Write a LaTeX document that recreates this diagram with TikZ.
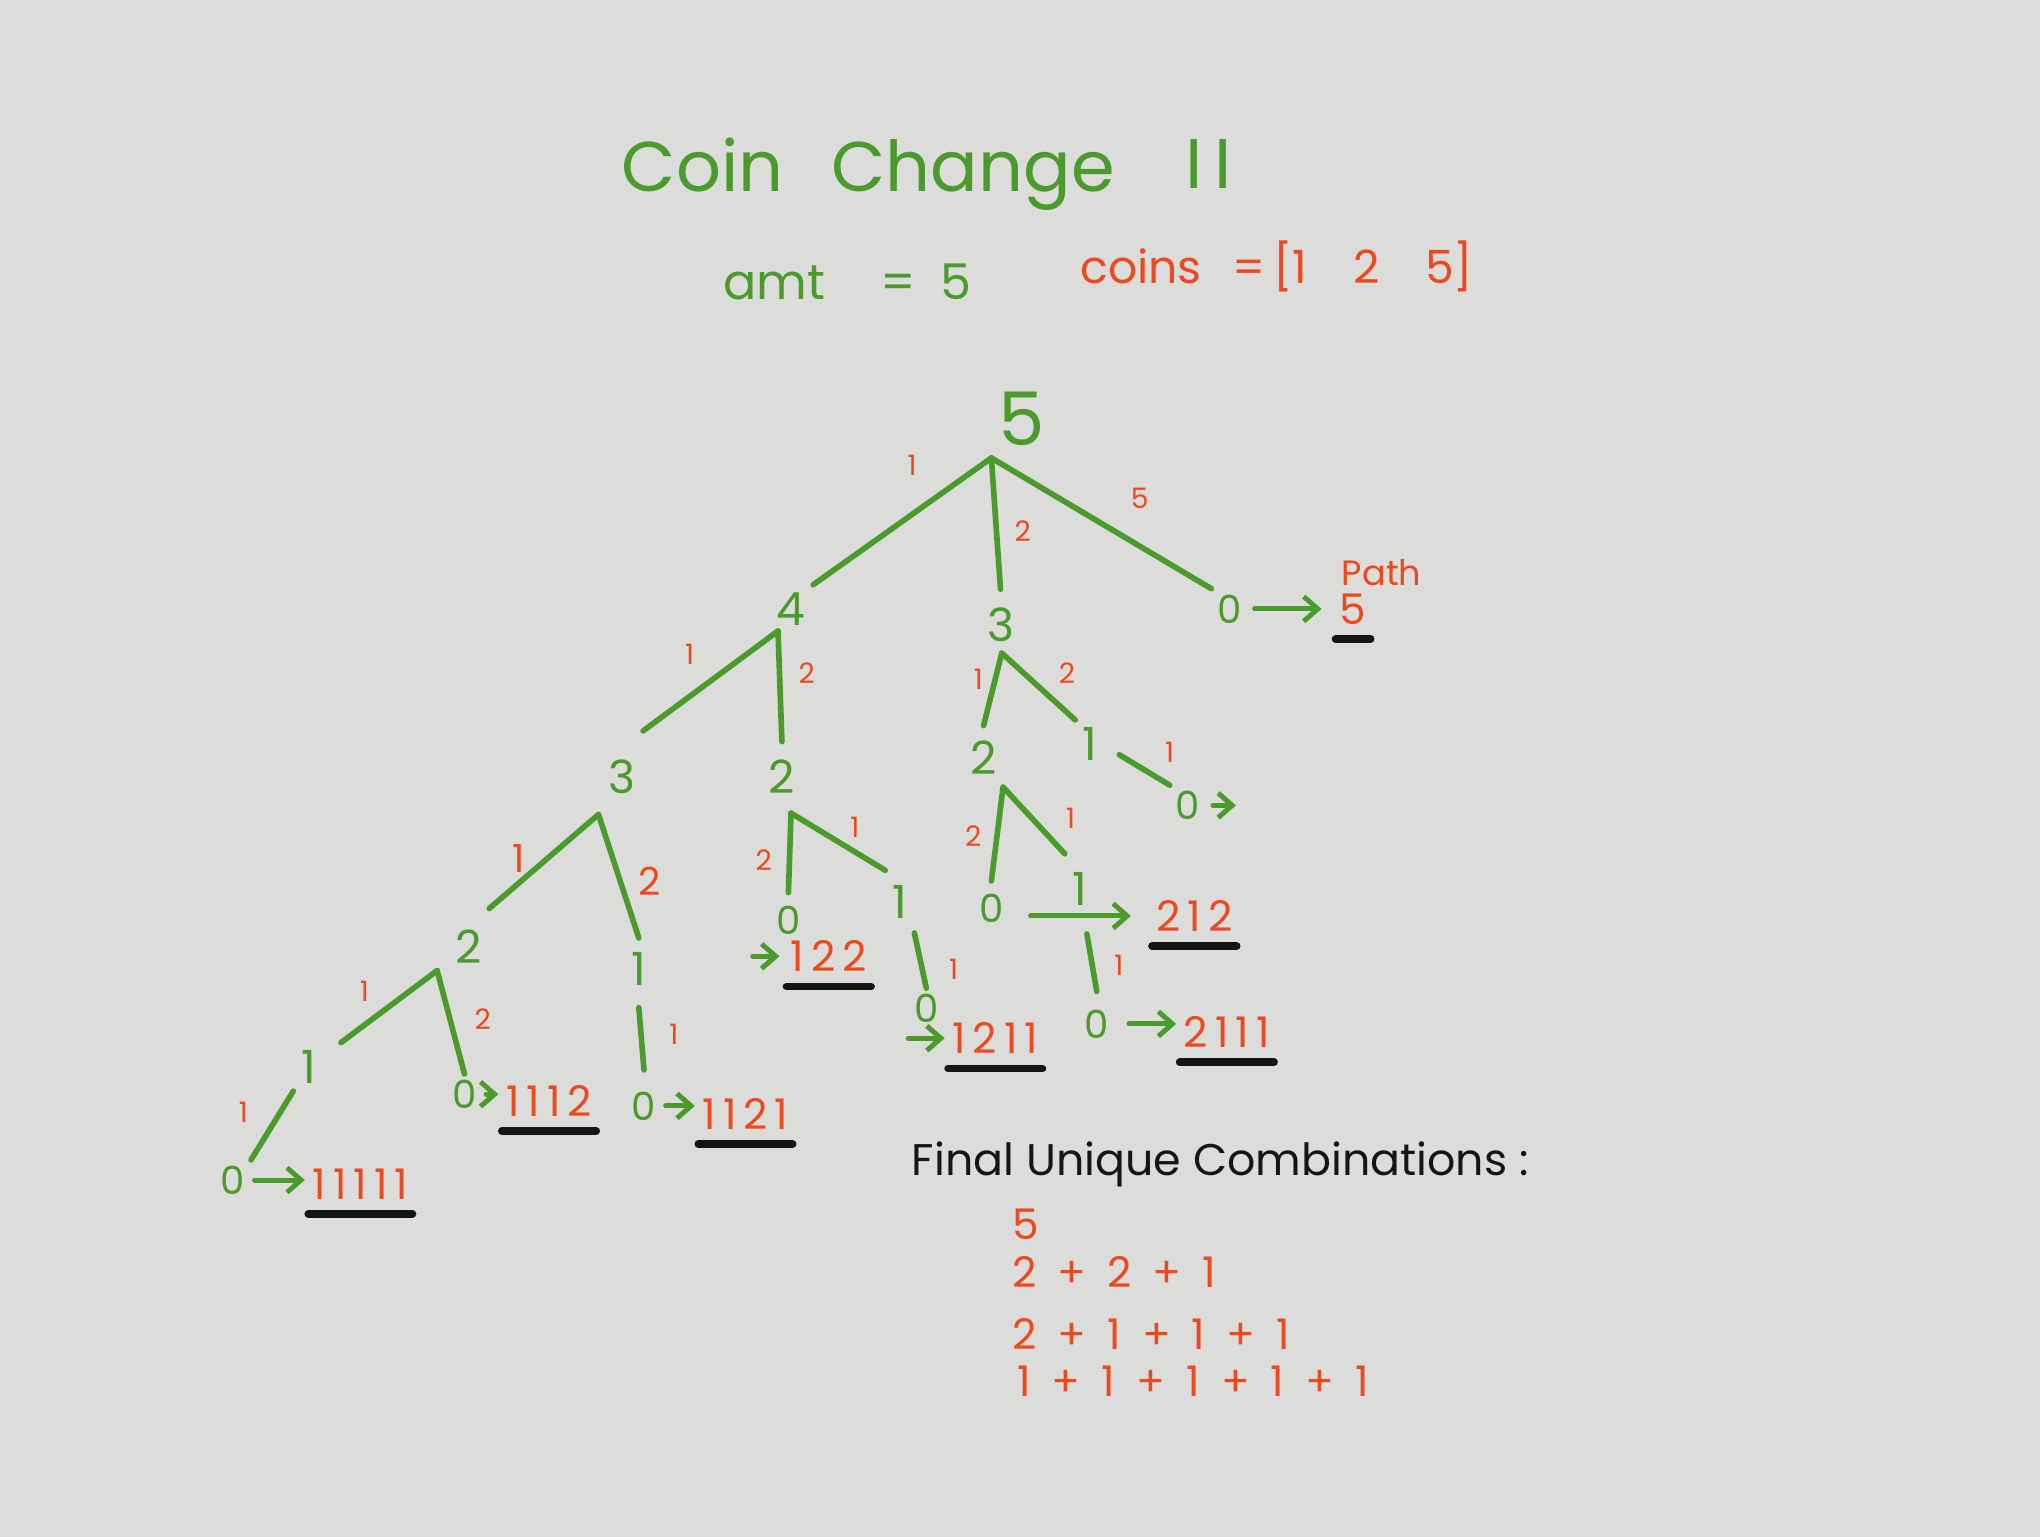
\documentclass[tikz,border=0pt]{standalone}
\usepackage{fontspec}
\setmainfont{Poppins}
\usetikzlibrary{arrows.meta}
\newcommand{\cpl}{\enspace+\enspace}
\begin{document}
\begin{tikzpicture}[x=0.013cm, y=-0.013cm,
  title/.style={text=grn, font=\fontsize{20}{20}\selectfont, anchor=base},
  hdr/.style={text=grn, font=\fontsize{14}{14}\selectfont, anchor=base},
  hdrred/.style={text=red1, font=\fontsize{13}{13}\selectfont, anchor=base},
  root/.style={text=grn, font=\fontsize{21}{21}\selectfont, inner sep=2pt},
  num/.style={text=grn, font=\fontsize{13}{13}\selectfont, inner sep=2pt},
  zero/.style={text=grn, font=\fontsize{11}{11}\selectfont, inner sep=1.5pt},
  lab/.style={text=red1, font=\fontsize{8}{8}\selectfont, inner sep=1pt},
  labbig/.style={text=red1, font=\fontsize{11}{11}\selectfont, inner sep=1pt},
  res/.style={text=red1, font=\fontsize{12}{12}\selectfont, inner sep=2pt},
  note/.style={text=red1, font=\fontsize{10}{10}\selectfont, inner sep=1pt},
  fin/.style={text=blk, font=\fontsize{12.6}{12.6}\selectfont, inner sep=2pt},
  combo/.style={text=red1, font=\fontsize{12}{12}\selectfont, inner sep=2pt, anchor=west},
  branch/.style={draw=grn, line width=1.6pt, line cap=round},
  arr/.style={draw=grn, line width=1.4pt, line cap=round, -{Straight Barb[length=4pt, width=7pt]}},
  uline/.style={draw=blk, line width=2.2pt, line cap=round},
]
\definecolor{board}{HTML}{DCDCDA}
\definecolor{grn}{HTML}{4A9A2C}
\definecolor{red1}{HTML}{EC4A1E}
\definecolor{blk}{HTML}{151515}
\fill[board] (0,0) rectangle (1568,1181);
\useasboundingbox (0,0) rectangle (1568,1181);

% heading
\node[title] (tcoin) at (540,147) {Coin};
\node[title] (tchange) at (748,147) {Change};
\node[title] (tii) at (929,145) {I\,I};
\node[hdr] (amt) at (595,230) {amt};
\node[hdr] (amtv) at (712,230) {=\enspace5};
\node[hdrred] (coins) at (877,218) {coins};
\node[hdrred] (coinv) at (1040,218) {=\,[1\quad2\quad5]};

% level 0 and 1
\node[root] (r) at (785,322) {5};
\coordinate (ra) at (762,352);
\node[num] (a) at (608,468) {4};
\node[num] (b) at (769,480) {3};
\node[zero] (c) at (945,468) {0};
\draw[branch] (ra) -- (a.north east);
\draw[branch] (ra) -- ([yshift=3pt]b.north);
\draw[branch] (ra) -- (c.north west);
\node[lab] (lr1) at (701,358) {1};
\node[lab] (lr2) at (786,408) {2};
\node[lab] (lr5) at (876,383) {5};
\node[res] (p5) at (1040,468) {5};
\node[note] (path) at (1062,440) {Path};
\draw[arr, shorten <=2pt, shorten >=3pt] (c) -- (p5);

% under 4
\coordinate (aa) at (598,485);
\node[num] (a1) at (478,597) {3};
\node[num] (a2) at (601,597) {2};
\draw[branch] (aa) -- ([yshift=6pt]a1.north east);
\draw[branch] (aa) -- ([yshift=3pt]a2.north);
\node[lab] (la1) at (530,503) {1};
\node[lab] (la2) at (620,517) {2};

% under 3 (middle)
\coordinate (ba) at (770,502);
\node[num] (b1) at (756,582) {2};
\node[num] (b2) at (838,572) {1};
\draw[branch] (ba) -- ([yshift=2pt]b1.north);
\draw[branch] (ba) -- (b2.north west);
\node[lab] (lb1) at (752,522) {1};
\node[lab] (lb2) at (820,517) {2};
\node[zero] (b2a) at (913,619) {0};
\coordinate (b2e) at (950,619);
\draw[branch] ([xshift=4pt,yshift=-3pt]b2.east) -- (b2a.north west);
\node[lab] (lb2a) at (899,578) {1};
\draw[arr, shorten <=2pt] (b2a) -- (b2e);

\coordinate (b1a) at (771,605);
\node[zero] (b1x) at (762,698) {0};
\node[num] (b1y) at (830,683) {1};
\draw[branch] (b1a) -- ([yshift=2pt]b1x.north);
\draw[branch] (b1a) -- ([yshift=3pt]b1y.north west);
\node[lab] (lb1x) at (748,643) {2};
\node[lab] (lb1y) at (823,629) {1};
\node[res] (q212) at (918,704) {2\,1\,2};
\draw[arr, shorten <=6pt, shorten >=5pt] (b1x.east |- q212.west) -- (q212.west);
\node[zero] (b1z) at (843,787) {0};
\draw[branch] ([xshift=2pt,yshift=-6pt]b1y.south) -- ([yshift=3.5pt]b1z.north);
\node[lab] (lb1z) at (860,742) {1};
\node[res] (q2111) at (943,793) {2\,1\,1\,1};
\draw[arr, shorten <=4pt] (b1z.east) -- (b1z.east -| q2111.west);

% under 2 (left)
\coordinate (a2a) at (608,625);
\node[zero] (a2x) at (606,707) {0};
\node[num] (a2y) at (692,693) {1};
\draw[branch] (a2a) -- ([yshift=2pt]a2x.north);
\draw[branch] (a2a) -- ([yshift=2pt]a2y.north west);
\node[lab] (la2x) at (587,661) {2};
\node[lab] (la2y) at (657,636) {1};
\node[res] (q122) at (637,735) {1\,2\,2};
\draw[arr, shorten <=-5pt, shorten >=1pt] (a2x.south west |- q122.west) -- (q122.west);
\node[zero] (a2z) at (712,775) {0};
\draw[branch] ([xshift=4pt,yshift=-2pt]a2y.south) -- (a2z.north);
\node[lab] (la2z) at (733,745) {1};
\node[res] (q1211) at (765,798) {1\,2\,1\,1};
\draw[arr] (a2z.south west |- q1211.west) -- (q1211.west);

% under 3 (left)
\coordinate (a1a) at (460,626);
\node[num] (a1x) at (360,728) {2};
\node[num] (a1y) at (491,745) {1};
\draw[branch] (a1a) -- ([yshift=4pt]a1x.north east);
\draw[branch] (a1a) -- ([yshift=2pt]a1y.north);
\node[labbig] (la1x) at (399,660) {1};
\node[labbig] (la1y) at (499,677) {2};
\node[zero] (a1z) at (495,850) {0};
\draw[branch] ([yshift=-4pt]a1y.south) -- ([yshift=4.5pt]a1z.north);
\node[lab] (la1z) at (518,795) {1};
\node[res] (q1121) at (573,856) {1\,1\,2\,1};
\draw[arr, shorten <=1pt] (a1z) -- (a1z -| q1121.west);

\coordinate (a1xa) at (336,746);
\node[num] (a1xl) at (237,820) {1};
\node[zero] (a1xr) at (357,841) {0};
\draw[branch] (a1xa) -- ([xshift=5pt]a1xl.north east);
\draw[branch] (a1xa) -- (a1xr.north);
\node[lab] (la1xl) at (280,762) {1};
\node[lab] (la1xr) at (371,783) {2};
\node[res] (q1112) at (422,846) {1\,1\,1\,2};
\draw[arr, shorten <=1pt] (a1xr) -- (a1xr -| q1112.west);
\node[zero] (a1xll) at (179,907) {0};
\draw[branch] (a1xl.south west) -- (a1xll.north east);
\node[lab] (la1xll) at (187,855) {1};
\node[res] (q11111) at (277,910) {1\,1\,1\,1\,1};
\draw[arr, shorten <=1pt] (a1xll) -- (a1xll -| q11111.west);

% underlines
\foreach \q in {p5,q212,q2111,q122,q1211,q1121,q1112,q11111}
  \draw[uline] ([shift={(1pt,-2pt)}]\q.south west) -- ([shift={(-1pt,-2pt)}]\q.south east);

% final list
\node[fin, anchor=west] (fintxt) at (695,895) {Final Unique Combinations :};
\node[combo] (cmb1) at (772,941) {5};
\node[combo] (cmb2) at (772,978) {2\cpl2\cpl1};
\node[combo] (cmb3) at (772,1025) {2\cpl1\cpl1\cpl1};
\node[combo] (cmb4) at (776,1062) {1\cpl1\cpl1\cpl1\cpl1};
\end{tikzpicture}
\end{document}
